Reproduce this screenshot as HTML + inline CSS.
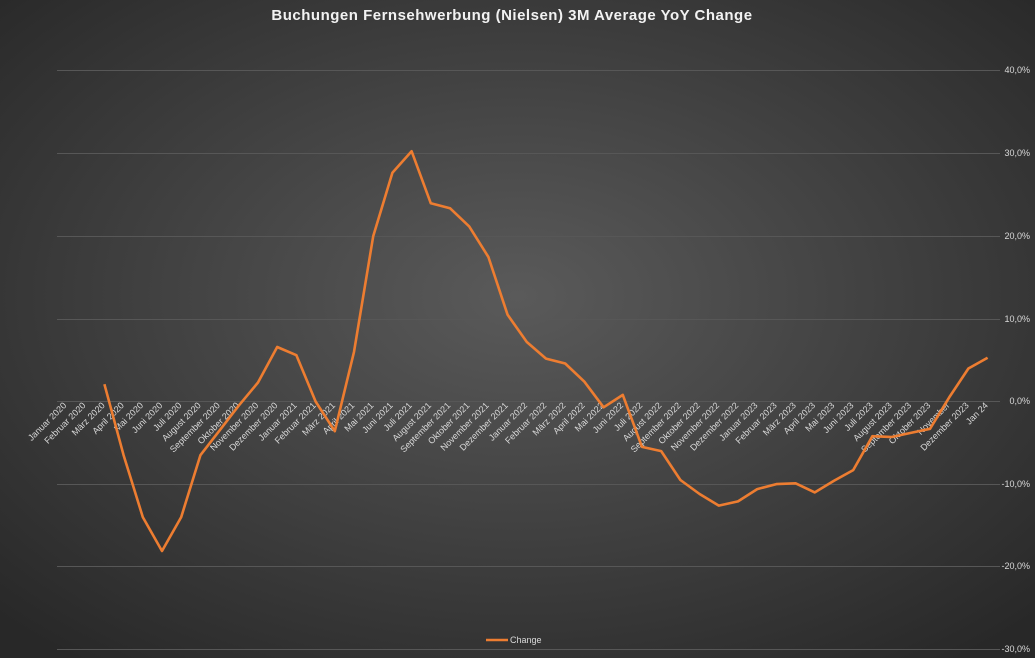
<!DOCTYPE html>
<html><head><meta charset="utf-8"><style>
html,body{margin:0;padding:0;width:1035px;height:658px;overflow:hidden;background:#333}
</style></head><body>
<svg width="1035" height="658" xmlns="http://www.w3.org/2000/svg" font-family="Liberation Sans, sans-serif">
<defs><radialGradient id="bg" cx="50%" cy="45%" r="70%"><stop offset="0" stop-color="#5a5a5a"/><stop offset="1" stop-color="#282828"/></radialGradient></defs>
<rect width="1035" height="658" fill="url(#bg)"/>
<text x="512" y="20" text-anchor="middle" fill="#f2f2f2" font-size="15" font-weight="bold" letter-spacing="0.5">Buchungen Fernsehwerbung (Nielsen) 3M Average YoY Change</text>
<g stroke="#575757" stroke-width="1">
<line x1="57" x2="1000" y1="70.5" y2="70.5"/><line x1="57" x2="1000" y1="153.5" y2="153.5"/><line x1="57" x2="1000" y1="236.5" y2="236.5"/><line x1="57" x2="1000" y1="319.5" y2="319.5"/><line x1="57" x2="1000" y1="401.5" y2="401.5"/><line x1="57" x2="1000" y1="484.5" y2="484.5"/><line x1="57" x2="1000" y1="566.5" y2="566.5"/><line x1="57" x2="1000" y1="649.5" y2="649.5"/>
</g>
<g fill="#d9d9d9" font-size="9" text-anchor="end">
<text x="1030" y="73">40,0%</text><text x="1030" y="156">30,0%</text><text x="1030" y="239">20,0%</text><text x="1030" y="322">10,0%</text><text x="1030" y="404">0,0%</text><text x="1030" y="487">-10,0%</text><text x="1030" y="569">-20,0%</text><text x="1030" y="652">-30,0%</text>
</g>
<g fill="#d9d9d9" font-size="9" text-anchor="end">
<text transform="translate(67.0,406) rotate(-45)">Januar 2020</text>
<text transform="translate(86.2,406) rotate(-45)">Februar 2020</text>
<text transform="translate(105.4,406) rotate(-45)">März 2020</text>
<text transform="translate(124.6,406) rotate(-45)">April 2020</text>
<text transform="translate(143.8,406) rotate(-45)">Mai 2020</text>
<text transform="translate(163.0,406) rotate(-45)">Juni 2020</text>
<text transform="translate(182.2,406) rotate(-45)">Juli 2020</text>
<text transform="translate(201.4,406) rotate(-45)">August 2020</text>
<text transform="translate(220.6,406) rotate(-45)">September 2020</text>
<text transform="translate(239.8,406) rotate(-45)">Oktober 2020</text>
<text transform="translate(259.0,406) rotate(-45)">November 2020</text>
<text transform="translate(278.2,406) rotate(-45)">Dezember 2020</text>
<text transform="translate(297.4,406) rotate(-45)">Januar 2021</text>
<text transform="translate(316.6,406) rotate(-45)">Februar 2021</text>
<text transform="translate(335.8,406) rotate(-45)">März 2021</text>
<text transform="translate(355.0,406) rotate(-45)">April 2021</text>
<text transform="translate(374.2,406) rotate(-45)">Mai 2021</text>
<text transform="translate(393.4,406) rotate(-45)">Juni 2021</text>
<text transform="translate(412.6,406) rotate(-45)">Juli 2021</text>
<text transform="translate(431.8,406) rotate(-45)">August 2021</text>
<text transform="translate(451.0,406) rotate(-45)">September 2021</text>
<text transform="translate(470.2,406) rotate(-45)">Oktober 2021</text>
<text transform="translate(489.4,406) rotate(-45)">November 2021</text>
<text transform="translate(508.6,406) rotate(-45)">Dezember 2021</text>
<text transform="translate(527.8,406) rotate(-45)">Januar 2022</text>
<text transform="translate(547.0,406) rotate(-45)">Februar 2022</text>
<text transform="translate(566.2,406) rotate(-45)">März 2022</text>
<text transform="translate(585.4,406) rotate(-45)">April 2022</text>
<text transform="translate(604.6,406) rotate(-45)">Mai 2022</text>
<text transform="translate(623.8,406) rotate(-45)">Juni 2022</text>
<text transform="translate(643.0,406) rotate(-45)">Juli 2022</text>
<text transform="translate(662.2,406) rotate(-45)">August 2022</text>
<text transform="translate(681.4,406) rotate(-45)">September 2022</text>
<text transform="translate(700.6,406) rotate(-45)">Oktober 2022</text>
<text transform="translate(719.8,406) rotate(-45)">November 2022</text>
<text transform="translate(739.0,406) rotate(-45)">Dezember 2022</text>
<text transform="translate(758.2,406) rotate(-45)">Januar 2023</text>
<text transform="translate(777.4,406) rotate(-45)">Februar 2023</text>
<text transform="translate(796.6,406) rotate(-45)">März 2023</text>
<text transform="translate(815.8,406) rotate(-45)">April 2023</text>
<text transform="translate(835.0,406) rotate(-45)">Mai 2023</text>
<text transform="translate(854.2,406) rotate(-45)">Juni 2023</text>
<text transform="translate(873.4,406) rotate(-45)">Juli 2023</text>
<text transform="translate(892.6,406) rotate(-45)">August 2023</text>
<text transform="translate(911.8,406) rotate(-45)">September 2023</text>
<text transform="translate(931.0,406) rotate(-45)">Oktober 2023</text>
<text transform="translate(950.2,406) rotate(-45)">November</text>
<text transform="translate(969.4,406) rotate(-45)">Dezember 2023</text>
<text transform="translate(988.6,406) rotate(-45)">Jan 24</text>
</g>
<polyline fill="none" stroke="#ED7D31" stroke-width="2.6" stroke-linejoin="round" points="104.4,384.2 123.6,455.2 142.8,517.1 162.0,551.0 181.2,517.1 200.4,455.2 219.6,430.4 238.8,405.6 258.0,382.5 277.2,347.0 296.4,355.2 315.6,401.5 334.8,431.2 354.0,351.9 373.2,236.3 392.4,172.7 411.6,151.2 430.8,203.3 450.0,208.2 469.2,226.4 488.4,257.0 507.6,314.8 526.8,342.0 546.0,358.6 565.2,363.5 584.4,381.7 603.6,407.3 622.8,394.9 642.0,446.9 661.2,451.1 680.4,480.0 699.6,494.0 718.8,505.6 738.0,501.4 757.2,489.1 776.4,484.1 795.6,483.3 814.8,492.4 834.0,480.8 853.2,470.1 872.4,436.2 891.6,437.0 910.8,432.9 930.0,428.8 949.2,397.4 968.4,368.5 987.6,357.7"/>
<line x1="486" x2="508" y1="640" y2="640" stroke="#ED7D31" stroke-width="2.6"/>
<text x="510" y="643" fill="#d9d9d9" font-size="9">Change</text>
</svg>
</body></html>
